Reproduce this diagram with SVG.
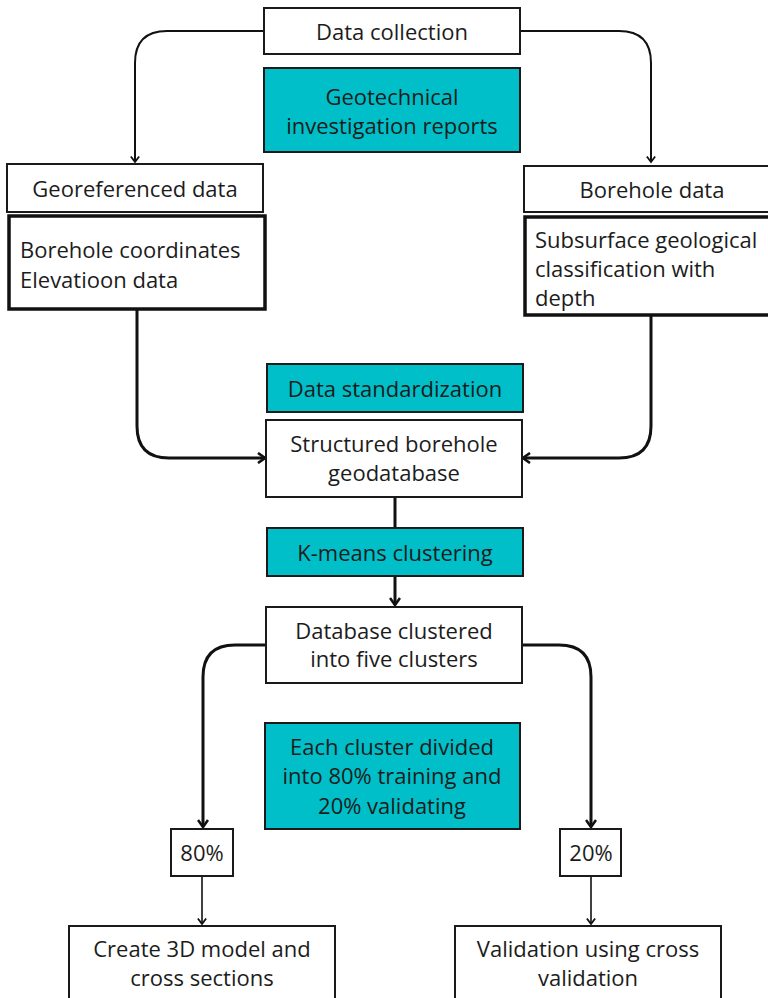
<svg xmlns="http://www.w3.org/2000/svg" width="768" height="998" viewBox="0 0 768 998">
<defs>
<style>
.box{fill:#ffffff;stroke:#1a1a1a;stroke-width:2}
.thick{fill:#ffffff;stroke:#111;stroke-width:3.5}
.teal{fill:#00BFC8;stroke:#1a1a1a;stroke-width:2}
text{font-family:"Open Sans","Noto Sans","Liberation Sans",sans-serif;font-size:22px;fill:#1c1c1c}
.c{text-anchor:middle}
.con{fill:none;stroke:#111}
.w2{stroke-width:2}
.w3{stroke-width:3}
.w1{stroke-width:1.6}
</style>
<marker id="ah" viewBox="0 0 12 12" refX="10" refY="6" markerWidth="12" markerHeight="12" markerUnits="userSpaceOnUse" orient="auto">
<path d="M3,1 L10,6 L3,11" fill="none" stroke="#111" stroke-width="2.6"/>
</marker>
<marker id="ahs" viewBox="0 0 12 12" refX="10" refY="6" markerWidth="11" markerHeight="11" markerUnits="userSpaceOnUse" orient="auto">
<path d="M4,1.5 L10,6 L4,10.5" fill="none" stroke="#111" stroke-width="2"/>
</marker>
</defs>
<rect width="768" height="998" fill="#ffffff"/>

<g id="connectors">
<path class="con w2" d="M264,31 H167 Q135,31 135,63 V162" marker-end="url(#ahs)"/>
<path class="con w2" d="M520,31 H619 Q651,31 651,63 V162" marker-end="url(#ahs)"/>
<path class="con w3" d="M137,309 V426 Q137,458 169,458 H265" marker-end="url(#ah)"/>
<path class="con w3" d="M651,315 V426 Q651,458 619,458 H523" marker-end="url(#ah)"/>
<path class="con w3" d="M395,497 V528"/>
<path class="con w3" d="M395,576 V605" marker-end="url(#ah)"/>
<path class="con w3" d="M266,645 H235 Q203,645 203,677 V827" marker-end="url(#ah)"/>
<path class="con w3" d="M522,645 H559 Q591,645 591,677 V827" marker-end="url(#ah)"/>
<path class="con w1" d="M202,876 V924" marker-end="url(#ahs)"/>
<path class="con w1" d="M591,876 V924" marker-end="url(#ahs)"/>
</g>

<g id="data-collection">
<rect class="box" x="264" y="8" width="256" height="46"/>
<text class="c" x="392" y="40">Data collection</text>
</g>

<g id="geotechnical">
<rect class="teal" x="264" y="68" width="256" height="84"/>
<text class="c" x="392" y="105">Geotechnical</text>
<text class="c" x="392" y="134">investigation reports</text>
</g>

<g id="georeferenced">
<rect class="box" x="7" y="164" width="256" height="48"/>
<text class="c" x="135" y="197">Georeferenced data</text>
</g>

<g id="borehole-coordinates">
<rect class="thick" x="9" y="216" width="256" height="93"/>
<text x="20" y="258">Borehole coordinates</text>
<text x="20" y="288">Elevatioon data</text>
</g>

<g id="borehole-data">
<rect class="box" x="524" y="166" width="260" height="46"/>
<text class="c" x="652" y="198">Borehole data</text>
</g>

<g id="subsurface">
<rect class="thick" x="525" y="217" width="260" height="98"/>
<text x="535" y="248">Subsurface geological</text>
<text x="535" y="277">classification with</text>
<text x="535" y="306">depth</text>
</g>

<g id="data-standardization">
<rect class="teal" x="267" y="364" width="256" height="48"/>
<text class="c" x="395" y="397">Data standardization</text>
</g>

<g id="structured">
<rect class="box" x="266" y="420" width="256" height="77"/>
<text class="c" x="394" y="452">Structured borehole</text>
<text class="c" x="394" y="481">geodatabase</text>
</g>

<g id="kmeans">
<rect class="teal" x="267" y="528" width="256" height="48"/>
<text class="c" x="395" y="561">K-means clustering</text>
</g>

<g id="clustered">
<rect class="box" x="266" y="607" width="256" height="76"/>
<text class="c" x="394" y="639">Database clustered</text>
<text class="c" x="394" y="667">into five clusters</text>
</g>

<g id="divided">
<rect class="teal" x="265" y="723" width="255" height="106"/>
<text class="c" x="392" y="755">Each cluster divided</text>
<text class="c" x="392" y="784">into 80% training and</text>
<text class="c" x="392" y="814">20% validating</text>
</g>

<g id="p80">
<rect class="box" x="171" y="829" width="62" height="47"/>
<text class="c" x="202" y="861">80%</text>
</g>

<g id="p20">
<rect class="box" x="560" y="829" width="61" height="47"/>
<text class="c" x="591" y="861">20%</text>
</g>

<g id="create-3d">
<rect class="box" x="69" y="926" width="266" height="90"/>
<text class="c" x="202" y="957">Create 3D model and</text>
<text class="c" x="202" y="986">cross sections</text>
</g>

<g id="validation">
<rect class="box" x="455" y="926" width="266" height="90"/>
<text class="c" x="588" y="957">Validation using cross</text>
<text class="c" x="588" y="986">validation</text>
</g>
</svg>
